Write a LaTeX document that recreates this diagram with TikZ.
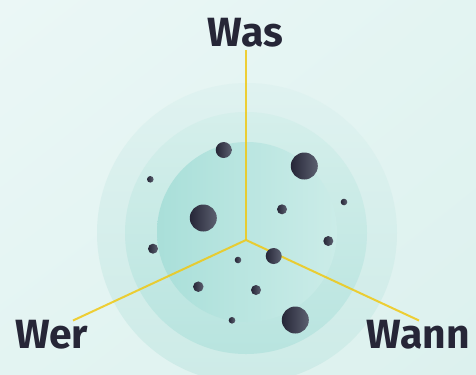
\documentclass[tikz,border=0pt]{standalone}
\usepackage{fontspec}
\setmainfont{Fira Sans}
\usetikzlibrary{shadings}
\definecolor{ink}{HTML}{262637}
\definecolor{inklight}{HTML}{5C6070}
\definecolor{bgA}{HTML}{EBF7F6}
\definecolor{bgB}{HTML}{E3F4F2}
\definecolor{bgC}{HTML}{DCF1EE}
\definecolor{outerT}{HTML}{DFF2F0}
\definecolor{outerB}{HTML}{CDEBE7}
\definecolor{midT}{HTML}{D5EFEB}
\definecolor{midB}{HTML}{B8E4DF}
\definecolor{innL}{HTML}{A9DFD9}
\definecolor{innR}{HTML}{CBECE8}
\definecolor{axisY}{HTML}{F0C814}
\tikzset{
  axisline/.style={draw=axisY, line width=2bp, draw opacity=0.85},
  lbl/.style={font=\bfseries\fontsize{41}{41}\selectfont, text=ink, inner sep=0pt},
  dot/.style={circle, inner sep=0pt, left color=ink, right color=inklight},
}
\begin{document}
\begin{tikzpicture}[x=1bp,y=-1bp]
\useasboundingbox (0,0) rectangle (476,374);
\begin{scope}
\clip (0,0) rectangle (476,374);
\shade[upper left=bgA, upper right=bgB, lower left=bgB, lower right=bgC] (0,0) rectangle (476,374);
% glow circles
\shade[top color=outerT, bottom color=outerB] (247,233) circle[radius=150];
\shade[top color=midT, bottom color=midB] (246,233) circle[radius=121];
\shade[left color=innL, right color=innR] (247,232) circle[radius=90];
\end{scope}
% axes
\coordinate (c) at (246,240);
\coordinate (eWas) at (246,50);
\coordinate (eWer) at (73,320.5);
\coordinate (eWann) at (419,320.5);
\draw[axisline] (c) -- (eWas);
\draw[axisline] (c) -- (eWer);
\draw[axisline] (c) -- (eWann);
% labels
\node[lbl, anchor=base] (was) at (245.5,46) {Was};
\node[lbl, anchor=base west] (wer) at (15,348) {Wer};
\node[lbl, anchor=base east] (wann) at (470,348) {Wann};
% dots
\node[dot, minimum size=16bp] (d1) at (223.7,150) {};
\node[dot, minimum size=27bp] (d2) at (304.3,166) {};
\node[dot, minimum size=6.6bp] (d3) at (150.3,179.3) {};
\node[dot, minimum size=27bp] (d4) at (203.3,218) {};
\node[dot, minimum size=10bp] (d5) at (282,209.3) {};
\node[dot, minimum size=6.6bp] (d6) at (344,202) {};
\node[dot, minimum size=10bp] (d7) at (328.3,241) {};
\node[dot, minimum size=10bp] (d8) at (153,248.7) {};
\node[dot, minimum size=6.6bp] (d9) at (238,260) {};
\node[dot, minimum size=16bp] (d10) at (273.7,256) {};
\node[dot, minimum size=10.5bp] (d11) at (198.3,286.7) {};
\node[dot, minimum size=10bp] (d12) at (256,290) {};
\node[dot, minimum size=6.6bp] (d13) at (232,320.3) {};
\node[dot, minimum size=27bp] (d14) at (295.3,320) {};
\end{tikzpicture}
\end{document}
